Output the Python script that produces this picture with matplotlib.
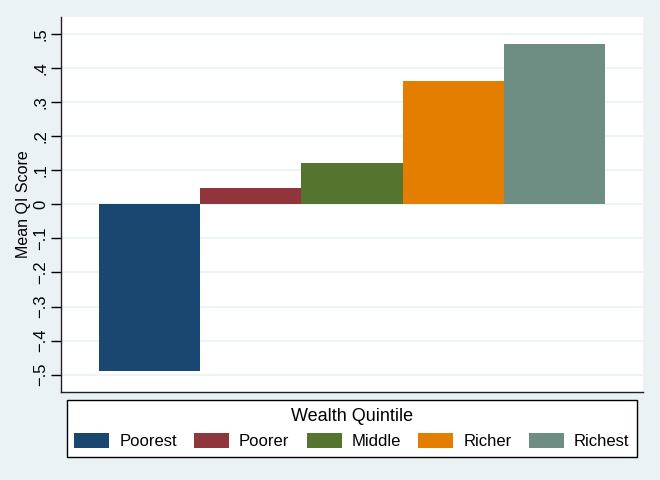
import matplotlib.pyplot as plt
from matplotlib.patches import Patch

plt.rcParams['font.family'] = ['Liberation Sans', 'DejaVu Sans']

# data
groups = ["Poorest", "Poorer", "Middle", "Richer", "Richest"]
mean_qi = [-0.488, 0.047, 0.120, 0.361, 0.472]
colors = ["#1A476F", "#90353B", "#55752F", "#E37E00", "#6E8E84"]
yticks = [-0.5, -0.4, -0.3, -0.2, -0.1, 0, 0.1, 0.2, 0.3, 0.4, 0.5]
ytick_labels = ["\u2212.5", "\u2212.4", "\u2212.3", "\u2212.2", "\u2212.1", "0",
                ".1", ".2", ".3", ".4", ".5"]

bg = "#EAF2F3"


def main():
    fig = plt.figure(figsize=(6.6, 4.8), dpi=100)
    fig.patch.set_facecolor(bg)
    ax = fig.add_axes([0.0924, 0.1833, 0.8818, 0.7813])
    ax.set_facecolor("white")

    xs = list(range(len(groups)))
    ax.bar(xs, mean_qi, width=1.0, color=colors, edgecolor="none", zorder=2)

    ax.set_xlim(-0.872, 4.872)
    ax.set_ylim(-0.551, 0.55)
    ax.set_xticks([])
    ax.set_yticks(yticks)
    ax.set_yticklabels(ytick_labels, rotation=90, va="center", fontsize=12)
    ax.tick_params(axis="y", direction="out", length=7, width=1, pad=2,
                   colors="black")
    ax.grid(axis="y", color=bg, linewidth=1.2, zorder=1)
    ax.set_axisbelow(True)

    for side in ["top", "right"]:
        ax.spines[side].set_visible(False)
    for side in ["left", "bottom"]:
        ax.spines[side].set_color("#222222")
        ax.spines[side].set_linewidth(1)

    ax.set_ylabel("Mean QI Score", fontsize=11.5)
    ax.yaxis.set_label_coords(-0.051, 0.5)

    handles = [Patch(facecolor=c, edgecolor="none") for c in colors]
    leg = fig.legend(handles, groups, loc="lower left", ncol=5,
                     bbox_to_anchor=(0.101, 0.048, 0.8636, 0.114),
                     mode="expand", title="Wealth Quintile",
                     fontsize=12, title_fontsize=13,
                     handlelength=2.1, handleheight=1.0, handletextpad=0.6,
                     borderpad=0.45, borderaxespad=0, fancybox=False,
                     framealpha=1, edgecolor="black")
    leg.get_frame().set_linewidth(1)

    fig.savefig("out.png", facecolor=bg)


if __name__ == "__main__":
    main()
